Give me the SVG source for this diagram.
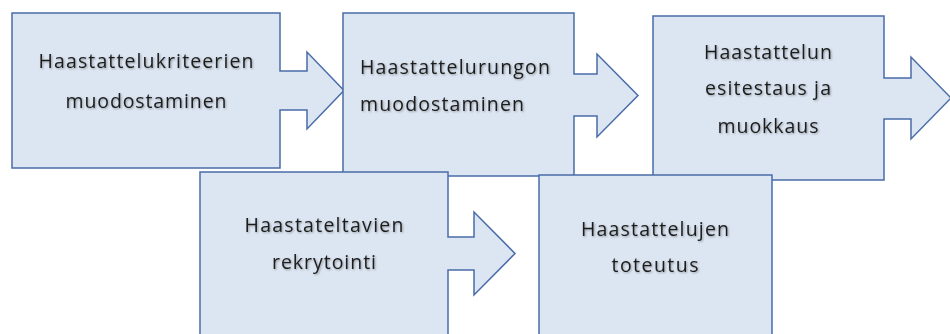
<svg xmlns="http://www.w3.org/2000/svg" width="950" height="334" viewBox="0 0 950 334">
<style>
.shape{fill:#dce6f2;stroke:#4a6ca8;stroke-width:1.5;stroke-linejoin:miter}
.lbl{font-family:"Open Sans","Liberation Sans",Arial,sans-serif;font-size:19.5px;fill:#1e1e1e;filter:url(#sh)}
.c{text-anchor:middle}
</style>
<defs>
<filter id="sh" x="-10%" y="-30%" width="120%" height="160%">
<feGaussianBlur in="SourceAlpha" stdDeviation="1.2" result="b"/>
<feOffset in="b" dx="0.8" dy="0.8" result="o"/>
<feComponentTransfer in="o" result="s"><feFuncA type="linear" slope="0.35"/></feComponentTransfer>
<feMerge><feMergeNode in="s"/><feMergeNode in="SourceGraphic"/></feMerge>
</filter>
</defs>
<g id="connectors"></g>
<g id="node1">
<polygon class="shape" points="12,13 280,13 280,71 307,71 307,52 344,90.5 307,129 307,110 280,110 280,168 12,168"/>
<text class="lbl c" x="146" y="68" textLength="215" lengthAdjust="spacing">Haastattelukriteerien</text>
<text class="lbl c" x="146" y="108" textLength="161" lengthAdjust="spacing">muodostaminen</text>
</g>
<g id="node2">
<polygon class="shape" points="343,13 574,13 574,74 597,74 597,54 638,95.5 597,137 597,116 574,116 574,176 343,176"/>
<text class="lbl" x="360" y="74" textLength="190" lengthAdjust="spacing">Haastattelurungon</text>
<text class="lbl" x="360" y="111" textLength="164" lengthAdjust="spacing">muodostaminen</text>
</g>
<g id="node3">
<polygon class="shape" points="653,16 884,16 884,78 911,78 911,57 951,98 911,139 911,119 884,119 884,180 653,180"/>
<text class="lbl c" x="768" y="59" textLength="128" lengthAdjust="spacing">Haastattelun</text>
<text class="lbl c" x="768" y="95" textLength="126" lengthAdjust="spacing">esitestaus ja</text>
<text class="lbl c" x="768" y="133" textLength="101" lengthAdjust="spacing">muokkaus</text>
</g>
<g id="node4">
<polygon class="shape" points="200,172 448,172 448,237 474,237 474,212 515,253.5 474,295 474,270 448,270 448,340 200,340"/>
<text class="lbl c" x="324" y="232" textLength="159" lengthAdjust="spacing">Haastateltavien</text>
<text class="lbl c" x="324" y="269" textLength="104" lengthAdjust="spacing">rekrytointi</text>
</g>
<g id="node5">
<polygon class="shape" points="539,175 772,175 772,340 539,340"/>
<text class="lbl c" x="655" y="236" textLength="148" lengthAdjust="spacing">Haastattelujen</text>
<text class="lbl c" x="655" y="272" textLength="87" lengthAdjust="spacing">toteutus</text>
</g>
</svg>
